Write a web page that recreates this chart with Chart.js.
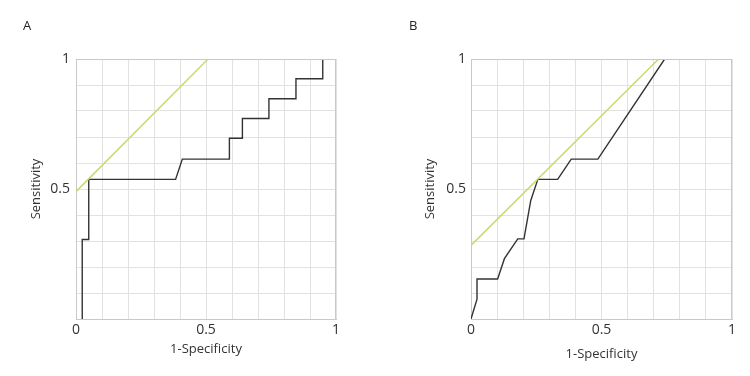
<!DOCTYPE html>
<html>
<head>
<meta charset="utf-8">
<script src="https://cdn.jsdelivr.net/npm/chart.js@4.4.1/dist/chart.umd.min.js"></script>
<style>
  html, body { margin: 0; padding: 0; background: #fff; }
  body { width: 750px; height: 376px; position: relative; overflow: hidden; font-family: "Open Sans", sans-serif; }
  .panel { position: absolute; top: 0; width: 375px; height: 376px; }
  .label { position: absolute; top: 16px; font-size: 13px; color: #222; }
</style>
</head>
<body>
<div class="panel" style="left:0"><canvas id="chartA" width="375" height="376"></canvas></div>
<div class="panel" style="left:375px"><canvas id="chartB" width="375" height="376"></canvas></div>
<div class="label" style="left:23px">A</div>
<div class="label" style="left:409px">B</div>
<script>
// ── DATA ──
const rocA_x = [0.024, 0.024, 0.049, 0.049, 0.383, 0.409, 0.590, 0.590, 0.640, 0.640, 0.742, 0.742, 0.846, 0.846, 0.949, 0.949];
const rocA_y = [0.000, 0.306, 0.306, 0.537, 0.537, 0.615, 0.615, 0.695, 0.695, 0.771, 0.771, 0.847, 0.847, 0.924, 0.924, 1.000];
const refA_x = [0, 0.508];
const refA_y = [0.49, 1];

const rocB_x = [0, 0.023, 0.023, 0.102, 0.128, 0.179, 0.203, 0.229, 0.256, 0.332, 0.384, 0.486, 0.742];
const rocB_y = [0, 0.076, 0.154, 0.154, 0.232, 0.308, 0.308, 0.456, 0.537, 0.537, 0.615, 0.615, 1.000];
const refB_x = [0, 0.719];
const refB_y = [0.283, 1];

const xTickLabels = { 0: "0", 0.5: "0.5", 1: "1" };
const yTickLabels = { 0.5: "0.5", 1: "1" };

const FONT = { family: "'Open Sans'", size: 13 };
const TICK_FONT = { family: "'Open Sans'", size: 14 };
const GRID = "#e2e2e2";
const BORDER = "#c9c9c9";

function pts(xs, ys) { return xs.map((x, i) => ({ x, y: ys[i] })); }
function lbl(map, v) {
  const k = Math.round(v * 10) / 10;
  return map[k] !== undefined ? map[k] : "";
}

// ── BUILD ONE PANEL ──
function makeChart(id, roc, ref, geo) {
  return new Chart(document.getElementById(id), {
    type: "scatter",
    data: {
      datasets: [
        { data: ref, showLine: true, borderColor: "#cbd970", borderWidth: 1.5, pointRadius: 0, tension: 0 },
        { data: roc, showLine: true, borderColor: "#333", borderWidth: 1.4, pointRadius: 0, tension: 0 }
      ]
    },
    options: {
      responsive: false,
      animation: false,
      layout: { padding: { top: 59, right: geo.right, left: 0, bottom: 0 } },
      plugins: { legend: { display: false }, tooltip: { enabled: false } },
      scales: {
        x: {
          type: "linear", min: 0, max: 1,
          afterFit: s => { s.height = 57; },
          grid: { color: GRID, drawTicks: false },
          border: { color: BORDER },
          ticks: { stepSize: 0.1, autoSkip: false, maxRotation: 0, padding: 3, color: "#333", font: TICK_FONT,
                   callback: v => lbl(xTickLabels, v) },
          title: { display: true, text: "1-Specificity", color: "#333", font: FONT, padding: { top: 0, bottom: geo.xTitlePad } }
        },
        y: {
          type: "linear", min: 0, max: 1,
          afterFit: s => { s.width = geo.yWidth; },
          grid: { color: GRID, drawTicks: false },
          border: { color: BORDER },
          ticks: { stepSize: 0.1, autoSkip: false, padding: geo.yTickPad, color: "#333", font: TICK_FONT,
                   callback: v => lbl(yTickLabels, v) },
          title: { display: true, text: "Sensitivity", color: "#333", font: FONT, padding: { top: geo.yTitlePad, bottom: 0 } }
        }
      }
    },
    plugins: [{
      // right and top edges of the plot frame
      id: "frame",
      afterDraw(c) {
        const a = c.chartArea, ctx = c.ctx;
        ctx.save();
        ctx.strokeStyle = BORDER;
        ctx.lineWidth = 1;
        ctx.beginPath();
        ctx.moveTo(a.left, a.top + 0.5); ctx.lineTo(a.right, a.top + 0.5);
        ctx.moveTo(a.right - 0.5, a.top); ctx.lineTo(a.right - 0.5, a.bottom);
        ctx.stroke();
        ctx.restore();
      }
    }]
  });
}

makeChart("chartA", pts(rocA_x, rocA_y), pts(refA_x, refA_y), { right: 39, yWidth: 76, yTickPad: 6, yTitlePad: 28, xTitlePad: 19 });
makeChart("chartB", pts(rocB_x, rocB_y), pts(refB_x, refB_y), { right: 18, yWidth: 96, yTickPad: 5, yTitlePad: 47, xTitlePad: 14 });
</script>
</body>
</html>
